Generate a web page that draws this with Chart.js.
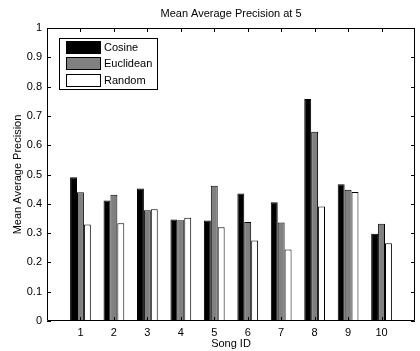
<!DOCTYPE html>
<html>
<head>
<meta charset="utf-8">
<script src="https://cdn.jsdelivr.net/npm/chart.js@4.4.1/dist/chart.umd.min.js"></script>
<style>
  html, body { margin: 0; padding: 0; background: #fff; }
  #wrap { width: 420px; height: 351px; }
</style>
</head>
<body>
<div id="wrap"><canvas id="mapChart"></canvas></div>
<script>
// data
const songIds = [1, 2, 3, 4, 5, 6, 7, 8, 9, 10];
const cosine = [0.491, 0.411, 0.452, 0.346, 0.343, 0.435, 0.405, 0.758, 0.467, 0.298];
const euclidean = [0.439, 0.431, 0.378, 0.344, 0.462, 0.338, 0.336, 0.646, 0.448, 0.332];
const random = [0.329, 0.334, 0.381, 0.352, 0.320, 0.275, 0.244, 0.391, 0.440, 0.265];
const seriesNames = ['Cosine', 'Euclidean', 'Random'];
const yTickStep = 0.1;

const FONT = '11px "Liberation Sans", Arial, sans-serif';

function toPoints(values) {
    return songIds.map((id, i) => ({ x: id, y: values[i] }));
}

// box, inward ticks, titles and legend drawn MATLAB style
const matlabFrame = {
    id: 'matlabFrame',
    afterDatasetsDraw(chart) {
        const { ctx, chartArea: a, scales: { x, y } } = chart;
        ctx.save();
        ctx.strokeStyle = '#000';
        ctx.lineWidth = 1;
        ctx.beginPath();
        ctx.rect(a.left + 0.5, a.top + 0.5, a.right - a.left - 1, a.bottom - a.top - 1);
        // x ticks, bottom and top
        songIds.forEach(id => {
            const px = Math.round(x.getPixelForValue(id)) + 0.5;
            ctx.moveTo(px, a.bottom); ctx.lineTo(px, a.bottom - 4);
            ctx.moveTo(px, a.top); ctx.lineTo(px, a.top + 4);
        });
        // y ticks, left and right
        y.ticks.forEach(t => {
            const py = Math.round(y.getPixelForValue(t.value)) + 0.5;
            ctx.moveTo(a.left, py); ctx.lineTo(a.left + 4, py);
            ctx.moveTo(a.right, py); ctx.lineTo(a.right - 4, py);
        });
        ctx.stroke();

        // titles
        ctx.fillStyle = '#000';
        ctx.font = FONT;
        ctx.textAlign = 'center';
        ctx.textBaseline = 'middle';
        const cx = (a.left + a.right) / 2;
        ctx.fillText('Mean Average Precision at 5', cx, 14);
        ctx.fillText('Song ID', cx, 344);
        ctx.save();
        ctx.translate(21, (a.top + a.bottom) / 2);
        ctx.rotate(-Math.PI / 2);
        ctx.textBaseline = 'alphabetic';
        ctx.fillText('Mean Average Precision', 0, 0);
        ctx.restore();

        // legend box
        ctx.fillStyle = '#fff';
        ctx.fillRect(59.5, 38.5, 98, 51);
        ctx.strokeRect(59.5, 38.5, 98, 51);
        chart.data.datasets.forEach((ds, i) => {
            const top = 41 + i * 16.3;
            ctx.fillStyle = ds.backgroundColor;
            ctx.fillRect(66.5, Math.round(top) + 0.5, 34, 12);
            ctx.strokeRect(66.5, Math.round(top) + 0.5, 34, 12);
            ctx.fillStyle = '#000';
            ctx.textAlign = 'left';
            ctx.textBaseline = 'middle';
            ctx.fillText(ds.label, 104, Math.round(top) + 7);
        });
        ctx.restore();
    }
};

const barColors = ['#000000', '#808080', '#ffffff'];

new Chart(document.getElementById('mapChart'), {
    type: 'bar',
    data: {
        datasets: [cosine, euclidean, random].map((vals, i) => ({
            label: seriesNames[i],
            data: toPoints(vals),
            backgroundColor: barColors[i],
            borderColor: '#000',
            borderWidth: 1,
            categoryPercentage: 0.62,
            barPercentage: 1.0
        }))
    },
    options: {
        responsive: true,
        maintainAspectRatio: false,
        animation: false,
        layout: { padding: { top: 28, right: 0, left: 0, bottom: 0 } },
        plugins: {
            legend: { display: false },
            title: { display: false },
            tooltip: { enabled: false }
        },
        scales: {
            x: {
                type: 'linear',
                min: 0,
                max: 11,
                offset: false,
                grid: { display: false, drawTicks: false },
                border: { display: false },
                afterFit: s => { s.height = 30; },
                ticks: {
                    stepSize: 1,
                    padding: 5,
                    color: '#000',
                    font: { family: '"Liberation Sans", Arial, sans-serif', size: 11 },
                    maxRotation: 0,
                    autoSkip: false,
                    callback: v => (v >= 1 && v <= 10) ? String(v) : ''
                }
            },
            y: {
                min: 0,
                max: 1,
                grid: { display: false, drawTicks: false },
                border: { display: false },
                afterFit: s => { s.width = 47; },
                ticks: {
                    stepSize: yTickStep,
                    padding: 5,
                    color: '#000',
                    font: { family: '"Liberation Sans", Arial, sans-serif', size: 11 },
                    callback: v => String(+v.toFixed(1))
                }
            }
        }
    },
    plugins: [matlabFrame]
});
</script>
</body>
</html>
